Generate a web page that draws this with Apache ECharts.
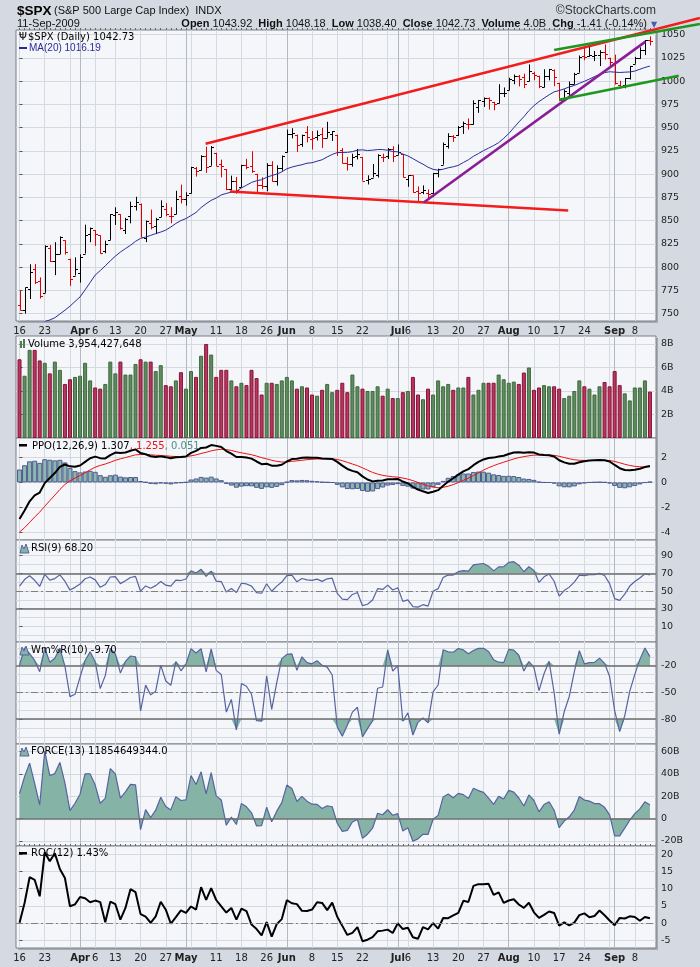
<!DOCTYPE html>
<html>
<head>
<meta charset="utf-8">
<title>$SPX</title>
<script src="https://cdn.jsdelivr.net/npm/echarts@6/dist/echarts.min.js"></script>
<style>
  html, body { margin: 0; padding: 0; background: #d5d9e1; }
  #main { width: 700px; height: 967px; }
</style>
</head>
<body>
<div id="main"></div>
<script>
// trading days shown, 16-Mar-2009 .. 11-Sep-2009
var dates = ['03-16','03-17','03-18','03-19','03-20','03-23','03-24','03-25','03-26','03-27','03-30','03-31',
  '04-01','04-02','04-03','04-06','04-07','04-08','04-09','04-13','04-14','04-15','04-16','04-17','04-20','04-21','04-22','04-23','04-24','04-27','04-28','04-29','04-30',
  '05-01','05-04','05-05','05-06','05-07','05-08','05-11','05-12','05-13','05-14','05-15','05-18','05-19','05-20','05-21','05-22','05-26','05-27','05-28','05-29',
  '06-01','06-02','06-03','06-04','06-05','06-08','06-09','06-10','06-11','06-12','06-15','06-16','06-17','06-18','06-19','06-22','06-23','06-24','06-25','06-26','06-29','06-30',
  '07-01','07-02','07-06','07-07','07-08','07-09','07-10','07-13','07-14','07-15','07-16','07-17','07-20','07-21','07-22','07-23','07-24','07-27','07-28','07-29','07-30','07-31',
  '08-03','08-04','08-05','08-06','08-07','08-10','08-11','08-12','08-13','08-14','08-17','08-18','08-19','08-20','08-21','08-24','08-25','08-26','08-27','08-28','08-31',
  '09-01','09-02','09-03','09-04','09-08','09-09','09-10','09-11'];

var open = [758.84,753.88,776.01,797.92,784.58,772.31,820.60,806.81,814.06,828.68,809.07,790.88,
  793.59,814.53,835.13,839.75,834.12,816.76,829.29,855.90,856.85,839.44,854.54,865.18,868.27,831.25,847.26,844.62,853.91,862.82,854.48,856.85,876.59,
  872.74,879.21,906.10,903.95,919.58,909.03,922.99,910.52,905.40,884.24,892.76,886.07,909.67,908.62,900.42,888.68,887.00,909.95,892.96,907.02,
  923.26,942.87,942.51,932.49,945.67,938.12,940.35,942.73,939.04,943.44,942.45,925.60,911.89,910.86,919.96,918.13,893.46,896.31,899.45,918.84,919.86,927.15,
  920.82,921.24,894.27,898.60,881.90,881.28,880.03,879.57,900.77,910.15,930.17,940.56,942.07,951.97,953.40,954.07,972.16,978.63,981.48,977.66,976.01,986.80,
  990.22,1001.41,1005.41,1004.06,999.83,1008.89,1005.77,994.00,1005.86,1012.23,998.18,980.62,986.88,996.41,1009.06,1026.59,1026.63,1027.35,1027.81,1031.62,1025.21,
  1019.52,996.07,996.12,1003.84,1018.67,1025.36,1032.99,1043.92];
var high = [774.53,778.12,803.04,803.24,788.91,823.37,823.65,826.78,832.98,828.68,809.07,810.48,
  813.62,845.61,842.50,839.75,834.12,828.42,856.91,864.31,856.85,852.93,870.35,875.63,868.27,850.09,861.78,852.87,871.80,868.83,864.48,882.06,888.70,
  880.48,907.85,907.70,920.28,929.58,930.17,922.99,915.57,905.40,898.36,896.97,910.00,916.39,924.60,900.42,896.65,911.76,913.84,909.45,920.02,
  947.77,949.38,942.51,942.47,951.69,946.33,946.92,949.77,956.23,946.30,942.45,928.00,918.44,921.93,927.09,918.13,898.69,910.85,921.42,922.00,927.99,930.01,
  931.92,921.24,898.72,898.60,886.80,887.86,883.57,901.05,905.84,933.95,943.96,941.89,951.62,956.53,959.83,979.42,979.79,982.49,982.35,977.76,996.68,993.18,
  1003.61,1007.12,1006.64,1008.00,1018.00,1010.12,1005.77,1012.78,1013.14,1012.60,998.18,991.20,999.61,1008.92,1027.59,1035.82,1037.75,1032.47,1033.33,1039.47,1025.21,
  1028.45,1000.34,1003.43,1016.48,1026.07,1036.34,1044.14,1048.18];
var low = [753.37,749.93,765.64,781.82,766.20,772.31,805.48,791.37,814.06,813.43,779.81,790.88,
  783.32,814.53,826.70,822.79,814.53,814.84,829.29,845.35,840.25,835.58,847.04,860.87,832.39,826.83,840.57,835.45,853.91,854.65,847.12,856.85,868.51,
  866.10,879.21,897.34,903.95,901.36,909.03,908.68,896.46,882.80,882.52,878.94,886.07,905.22,901.37,879.61,883.75,881.46,891.87,887.60,903.56,
  923.26,938.46,923.85,929.32,934.13,926.44,936.15,927.97,939.04,935.66,919.65,911.60,903.78,907.94,915.80,893.04,888.86,896.31,896.27,913.03,916.18,912.86,
  920.82,896.42,886.36,879.93,869.32,878.45,872.81,875.32,896.50,910.15,927.45,934.65,940.99,943.22,947.75,953.27,965.95,972.29,969.35,968.65,976.01,982.85,
  990.22,996.68,994.31,992.49,999.83,1000.99,992.40,993.36,1000.82,994.60,978.51,980.62,980.62,996.39,1009.06,1022.48,1026.21,1021.57,1016.20,1023.13,1014.62,
  996.28,991.97,992.25,1001.65,1018.67,1023.97,1028.04,1038.40];
var close = [753.89,778.12,794.35,784.04,768.54,822.92,806.12,813.88,832.86,815.94,787.53,797.87,
  811.08,834.38,842.50,835.48,815.55,825.16,856.56,858.73,841.50,852.06,865.30,869.60,832.39,850.08,843.55,851.92,866.23,857.51,855.16,873.64,872.81,
  877.52,907.24,903.80,919.53,907.39,929.23,909.24,908.35,883.92,893.07,882.88,909.71,908.13,903.47,888.33,887.00,910.33,893.06,906.83,919.14,
  942.87,944.74,931.76,942.46,940.09,939.14,942.43,939.15,944.89,946.21,923.72,911.97,910.71,918.37,921.23,893.04,895.10,900.94,920.26,918.90,927.23,919.32,
  923.33,896.42,898.72,881.03,879.56,882.68,879.13,901.05,905.84,932.68,940.74,940.38,951.13,954.58,954.07,976.29,979.26,982.18,979.62,975.15,986.75,987.48,
  1002.63,1005.65,1002.72,997.08,1010.48,1007.10,994.35,1005.81,1012.73,1004.09,979.73,989.67,996.46,1007.37,1026.13,1025.57,1028.00,1028.12,1030.98,1028.93,1020.62,
  998.04,994.75,1003.24,1016.40,1025.39,1033.37,1044.14,1042.73];
// volume in billions of shares
var volume = [6.7,5.3,7.5,7.5,6.6,6.4,5.5,6.5,5.8,4.6,5.0,5.2,5.3,6.4,4.9,4.3,4.2,4.6,6.5,5.5,
  6.5,5.4,5.4,6.3,6.7,6.5,6.5,5.7,6.2,4.5,4.4,4.9,5.6,4.2,5.7,5.2,7.0,8.0,7.1,5.2,
  5.8,5.8,4.9,4.4,4.7,4.5,5.8,5.1,3.7,4.7,4.7,4.6,4.9,5.2,4.9,4.2,4.4,4.3,3.7,3.6,
  4.1,4.6,3.9,4.1,4.7,3.9,5.4,4.4,4.2,4.0,4.0,4.4,3.6,4.2,3.4,3.4,3.9,4.0,5.2,3.7,
  3.3,4.2,3.7,4.9,4.4,4.6,4.1,4.3,4.3,5.2,3.7,4.1,4.7,4.7,4.7,5.4,5.0,4.7,4.8,4.6,
  5.57,6.0,4.1,4.3,4.5,4.4,4.4,4.2,3.4,3.6,4.0,4.9,4.4,4.2,3.7,4.4,4.77,4.4,5.7,4.5,
  3.8,3.2,4.3,4.3,4.9,3.95];

// history before the window, only used to warm up the indicators (1-Dec-2008 .. 13-Mar-2009)
var priorClose = [816.21,848.81,870.74,845.22,876.07,909.70,888.67,899.24,873.59,879.73,868.57,913.18,904.42,885.28,887.88,871.63,863.16,868.15,872.80,869.42,890.64,903.25,
  931.80,927.45,934.70,906.65,909.73,890.35,870.26,871.79,842.62,843.74,850.12,805.22,840.24,827.50,831.95,836.57,845.71,874.09,845.14,825.88,
  825.44,838.51,832.23,845.85,868.60,869.89,827.16,833.74,835.19,826.84,789.17,788.42,778.94,770.05,743.33,773.14,764.90,752.83,735.09,
  700.82,696.33,712.87,682.55,683.38,676.53,719.60,721.36,750.74,756.55];
var priorHigh = [711.67,724.12,708.27,699.96,695.27,719.60,731.92,752.63,758.29];
var priorLow = [692.30,698.96,677.93,666.79,672.88,679.28,713.85,714.76,742.46];
var forcePrior = 29e9; // FORCE(13) on 13-Mar

// axis ticks
var tickDates = ['03-16','03-23','04-01','04-06','04-13','04-20','04-27','05-01','05-11','05-18','05-26','06-01','06-08','06-15','06-22','07-01','07-06','07-13','07-20','07-27','08-03','08-10','08-17','08-24','09-01','09-08'];
var tickText = ['16','23','Apr','6','13','20','27','May','11','18','26','Jun','8','15','22','Jul','6','13','20','27','Aug','10','17','24','Sep','8'];
var weekDates = ['03-16','03-23','03-30','04-06','04-13','04-20','04-27','05-04','05-11','05-18','05-26','06-08','06-15','06-22','06-29','07-06','07-13','07-20','07-27','08-10','08-17','08-24','08-31','09-08'];
var monthDates = ['04-01','05-01','06-01','07-01','08-03','09-01'];
var priceTicks = [750,775,800,825,850,875,900,925,950,975,1000,1025,1050];
var volTicks = [2e9,4e9,6e9,8e9];
var ppoTicks = [-4,-2,0,2];
var rsiTicks = [10,30,50,70,90];
var rsiGrid = [0,10,20,30,40,50,60,70,80,90,100];
var wmrTicks = [-80,-50,-20];
var wmrGrid = [-100,-90,-80,-70,-60,-50,-40,-30,-20,-10,0];
var forceTicks = [-20e9,0,20e9,40e9,60e9];
var rocTicks = [-5,0,5,10,15,20];

// drawn trend lines: [start day index, start price, end day index, end price]
var trendLines = [
  [36.9, 932.7, 134.9, 1068.0],
  [41.7, 881.2, 108.8, 860.8],
  [80.2, 869.7, 124.1, 1042.5],
  [106.0, 1033.6, 134.9, 1061.5],
  [107.0, 979.9, 130.7, 1005.7]
];
var trendColors = ['#f21c1c', '#f21c1c', '#8a1c96', '#1f961f', '#1f961f'];

var N = dates.length;
var idxOf = function (d) { return dates.indexOf(d); };
var tickIdx = tickDates.map(idxOf);
var weekIdx = weekDates.map(idxOf);
var monthIdx = monthDates.map(idxOf);
var dayIdx = dates.map(function (d, i) { return i; });

// ---- indicators ----
var allClose = priorClose.concat(close);
var off = priorClose.length;
function ema(arr, n) {
  var k = 2 / (n + 1), out = [], e = arr[0];
  for (var i = 0; i < arr.length; i++) { e = i === 0 ? arr[0] : arr[i] * k + e * (1 - k); out.push(e); }
  return out;
}
var e12 = ema(allClose, 12), e26 = ema(allClose, 26);
var ppoAll = allClose.map(function (c, i) { return (e12[i] - e26[i]) / e26[i] * 100; });
var sigAll = ema(ppoAll, 9);

var ma20 = [], ppo = [], sig = [], hist = [], rsi = [], wmr = [], roc = [], force = [];
for (var i = 0; i < N; i++) {
  var j = off + i, s = 0;
  for (var k = j - 19; k <= j; k++) s += allClose[k];
  ma20.push([i, s / 20]);
  ppo.push([i, ppoAll[j]]);
  sig.push([i, sigAll[j]]);
  hist.push([i, ppoAll[j] - sigAll[j]]);
  roc.push([i, (allClose[j] / allClose[j - 12] - 1) * 100]);
}
// RSI(9), Wilder smoothing
(function () {
  var n = 9, g = 0, l = 0;
  for (var k = 1; k <= n; k++) { var d = allClose[k] - allClose[k - 1]; if (d > 0) g += d; else l -= d; }
  g /= n; l /= n;
  var vals = [];
  for (var k = n + 1; k < allClose.length; k++) {
    var d = allClose[k] - allClose[k - 1];
    g = (g * (n - 1) + Math.max(d, 0)) / n;
    l = (l * (n - 1) + Math.max(-d, 0)) / n;
    vals[k] = l === 0 ? 100 : 100 - 100 / (1 + g / l);
  }
  for (var i = 0; i < N; i++) rsi.push([i, vals[off + i]]);
})();
// Williams %R(10)
(function () {
  var hh = priorHigh.concat(high), ll = priorLow.concat(low), o = priorHigh.length;
  for (var i = 0; i < N; i++) {
    var mx = -Infinity, mn = Infinity;
    for (var k = o + i - 9; k <= o + i; k++) { mx = Math.max(mx, hh[k]); mn = Math.min(mn, ll[k]); }
    wmr.push([i, (mx - close[i]) / (mx - mn) * -100]);
  }
})();
// FORCE(13)
(function () {
  var f = forcePrior, k = 2 / 14;
  for (var i = 0; i < N; i++) {
    var raw = (allClose[off + i] - allClose[off + i - 1]) * volume[i] * 1e9;
    f = f + (raw - f) * k;
    force.push([i, f]);
  }
})();

var upDay = close.map(function (c, i) { return c >= allClose[off + i - 1]; });
var ohlc = dates.map(function (d, i) { return [i, open[i], high[i], low[i], close[i], upDay[i] ? 1 : 0]; });
var vol = volume.map(function (v, i) {
  return { value: [i, v * 1e9], itemStyle: { color: upDay[i] ? '#5f8b5f' : '#b2385f', borderColor: upDay[i] ? '#3c6a3c' : '#8c1036' } };
});

// ---- layout ----
var L = 16, R = 44;
var grids = [
  { top: 30, height: 291 },   // price
  { top: 336, height: 102 },  // volume
  { top: 438, height: 102 },  // ppo
  { top: 540, height: 102 },  // rsi
  { top: 642, height: 102 },  // wm%r
  { top: 744, height: 102 },  // force
  { top: 846, height: 102 }   // roc
].map(function (g) {
  return { left: L, right: R, top: g.top, height: g.height, show: true, backgroundColor: '#f4f6fa', borderColor: '#7a7e86', borderWidth: 1 };
});

var labelFont = 'DejaVu Sans';
function fmtX(v) {
  var n = tickIdx.indexOf(Math.round(v));
  if (n < 0) return '';
  var t = tickText[n];
  return /^[A-Z]/.test(t) ? '{m|' + t + '}' : '{d|' + t + '}';
}
function xAx(g, withLabels) {
  return {
    type: 'value', gridIndex: g, min: -0.7, max: 126.2,
    axisLine: { show: false },
    axisTick: { show: false, customValues: weekIdx },
    axisLabel: {
      show: withLabels, customValues: tickIdx, formatter: fmtX, margin: 5,
      rich: {
        m: { fontFamily: labelFont, fontSize: 10, fontWeight: 'bold', color: '#222' },
        d: { fontFamily: labelFont, fontSize: 10, color: '#222' }
      }
    },
    splitLine: { show: true, lineStyle: { color: '#d5d9e0', width: 1 } }
  };
}
// second x axis per panel: darker month lines
function xMonth(g) {
  return {
    type: 'value', gridIndex: g, min: -0.7, max: 126.2,
    axisLine: { show: false }, axisLabel: { show: false },
    axisTick: { show: false, customValues: monthIdx },
    splitLine: { show: true, lineStyle: { color: '#b4b8c0', width: 1 } }
  };
}
// day tick marks under a panel
function xDays(g) {
  return {
    type: 'value', gridIndex: g, min: -0.7, max: 126.2,
    axisLine: { show: false }, axisLabel: { show: false }, splitLine: { show: false },
    axisTick: { show: true, inside: false, length: 2, customValues: dayIdx, lineStyle: { color: '#666', width: 1 } }
  };
}
function yAx(g, min, max, labels, fmt, gridVals) {
  return {
    type: 'value', gridIndex: g, position: 'right', min: min, max: max,
    axisLine: { show: false },
    axisTick: { show: false, customValues: gridVals || labels },
    axisLabel: { customValues: labels, formatter: fmt, fontFamily: labelFont, fontSize: 9.5, color: '#222', margin: 5, showMinLabel: true, showMaxLabel: true },
    splitLine: { show: true, lineStyle: { color: '#d5d9e0', width: 1 } }
  };
}
// tick stubs on the right edge
function yStub(g, min, max, labels) {
  return {
    type: 'value', gridIndex: g, position: 'right', min: min, max: max,
    axisLine: { show: false }, axisLabel: { show: false }, splitLine: { show: false },
    axisTick: { show: true, length: 3, customValues: labels, lineStyle: { color: '#555' } }
  };
}
var billions = function (v) { return v === 0 ? '0' : (v / 1e9) + 'B'; };
var plain = function (v) { return String(v); };

var xAxes = [], yAxes = [];
for (var g = 0; g < 7; g++) xAxes.push(xAx(g, g === 0 || g === 6)); // 0..6
for (var g = 0; g < 7; g++) xAxes.push(xMonth(g));                  // 7..13
xAxes.push(xDays(0)); // 14
xAxes.push(xDays(6)); // 15

var yRanges = [
  [742, 1055, priceTicks, plain],
  [0, 8.68e9, volTicks, billions],
  [-4.6, 3.55, ppoTicks, plain],
  [-7.6, 107.7, rsiTicks, plain, rsiGrid],
  [-108, 6.7, wmrTicks, plain, wmrGrid],
  [-24.5e9, 66.6e9, forceTicks, billions],
  [-7.2, 22.4, rocTicks, plain]
];
yRanges.forEach(function (r, g) { yAxes.push(yAx(g, r[0], r[1], r[2], r[3], r[4])); });
yRanges.forEach(function (r, g) { yAxes.push(yStub(g, r[0], r[1], r[2])); });

var blueLine = '#5763a0', fillTeal = '#85b3a6';
var dashDot = [7, 3, 2, 3];
function hLines(vals) {
  return {
    silent: true, symbol: 'none', label: { show: false }, animation: false,
    data: vals.map(function (v) {
      return { yAxis: v[0], lineStyle: { color: v[1] === 'dd' ? '#808080' : '#6c6c6c', width: v[1] === 'dd' ? 1 : 1.5, type: v[1] === 'dd' ? dashDot : 'solid' } };
    })
  };
}
function hidden(g) {
  return { type: 'line', xAxisIndex: 7 + g, yAxisIndex: 7 + g, data: [], symbol: 'none', silent: true, lineStyle: { opacity: 0 } };
}

var series = [
  hidden(0), hidden(1), hidden(2), hidden(3), hidden(4), hidden(5), hidden(6),
  {
    type: 'custom', xAxisIndex: 0, yAxisIndex: 0, data: ohlc, encode: { x: 0, y: [1, 2, 3, 4] }, z: 3,
    renderItem: function (params, api) {
      var i = api.value(0);
      var ph = api.coord([i, api.value(2)]), pl = api.coord([i, api.value(3)]);
      var po = api.coord([i, api.value(1)]), pc = api.coord([i, api.value(4)]);
      var x = Math.round(ph[0]) + 0.5;
      var col = api.value(5) ? '#000000' : '#e00000';
      var st = { stroke: col, lineWidth: 1 };
      return { type: 'group', children: [
        { type: 'line', shape: { x1: x, y1: ph[1], x2: x, y2: pl[1] }, style: st },
        { type: 'line', shape: { x1: x - 2.5, y1: Math.round(po[1]) + 0.5, x2: x, y2: Math.round(po[1]) + 0.5 }, style: st },
        { type: 'line', shape: { x1: x, y1: Math.round(pc[1]) + 0.5, x2: x + 2.5, y2: Math.round(pc[1]) + 0.5 }, style: st }
      ] };
    }
  },
  { type: 'line', xAxisIndex: 0, yAxisIndex: 0, data: ma20, symbol: 'none', z: 4, lineStyle: { color: '#2b2b98', width: 1 } },
  {
    type: 'custom', xAxisIndex: 0, yAxisIndex: 0, data: trendLines, encode: { x: [0, 2], y: [1, 3] }, clip: false, z: 6, silent: true,
    renderItem: function (params, api) {
      var a = api.coord([api.value(0), api.value(1)]), b = api.coord([api.value(2), api.value(3)]);
      return { type: 'line', shape: { x1: a[0], y1: a[1], x2: b[0], y2: b[1] }, style: { stroke: trendColors[params.dataIndex], lineWidth: 2.5 } };
    }
  },

  { type: 'bar', xAxisIndex: 1, yAxisIndex: 1, data: vol, barWidth: 4, itemStyle: { borderWidth: 1 } },

  { type: 'bar', xAxisIndex: 2, yAxisIndex: 2, data: hist, barWidth: 5.04, itemStyle: { color: '#8db7ad', borderColor: '#4e5a94', borderWidth: 1 } },
  { type: 'line', xAxisIndex: 2, yAxisIndex: 2, data: sig, symbol: 'none', z: 4, lineStyle: { color: '#f01010', width: 1 } },
  { type: 'line', xAxisIndex: 2, yAxisIndex: 2, data: ppo, symbol: 'none', z: 5, lineStyle: { color: '#000', width: 2 } },

  { type: 'line', xAxisIndex: 3, yAxisIndex: 3, data: rsi.map(function (p) { return [p[0], Math.max(p[1], 70)]; }), symbol: 'none', silent: true, lineStyle: { opacity: 0 }, areaStyle: { origin: 70, color: fillTeal, opacity: 1 } },
  { type: 'line', xAxisIndex: 3, yAxisIndex: 3, data: rsi.map(function (p) { return [p[0], Math.min(p[1], 30)]; }), symbol: 'none', silent: true, lineStyle: { opacity: 0 }, areaStyle: { origin: 30, color: fillTeal, opacity: 1 } },
  { type: 'line', xAxisIndex: 3, yAxisIndex: 3, data: rsi, symbol: 'none', z: 4, lineStyle: { color: blueLine, width: 1.2 },
    markLine: hLines([[70, 's'], [30, 's'], [50, 'dd']]) },

  { type: 'line', xAxisIndex: 4, yAxisIndex: 4, data: wmr.map(function (p) { return [p[0], Math.max(p[1], -20)]; }), symbol: 'none', silent: true, lineStyle: { opacity: 0 }, areaStyle: { origin: -20, color: fillTeal, opacity: 1 } },
  { type: 'line', xAxisIndex: 4, yAxisIndex: 4, data: wmr.map(function (p) { return [p[0], Math.min(p[1], -80)]; }), symbol: 'none', silent: true, lineStyle: { opacity: 0 }, areaStyle: { origin: -80, color: fillTeal, opacity: 1 } },
  { type: 'line', xAxisIndex: 4, yAxisIndex: 4, data: wmr, symbol: 'none', z: 4, lineStyle: { color: blueLine, width: 1.2 },
    markLine: hLines([[-20, 's'], [-80, 's'], [-50, 'dd']]) },

  { type: 'line', xAxisIndex: 5, yAxisIndex: 5, data: force, symbol: 'none', z: 4, lineStyle: { color: blueLine, width: 1.2 }, areaStyle: { origin: 0, color: fillTeal, opacity: 1 },
    markLine: hLines([[0, 's']]) },

  { type: 'line', xAxisIndex: 6, yAxisIndex: 6, data: roc, symbol: 'none', z: 4, lineStyle: { color: '#000', width: 2 },
    markLine: hLines([[0, 'dd']]) },

  { type: 'line', xAxisIndex: 14, yAxisIndex: 0, data: [], symbol: 'none' },
  { type: 'line', xAxisIndex: 15, yAxisIndex: 6, data: [], symbol: 'none' }
];

// ---- texts ----
var hdrFont = '"Liberation Sans", Arial, sans-serif';
function txt(x, y, text, font, fill, extra) {
  var st = { x: x, y: y, text: text, font: font, fill: fill || '#000', textVerticalAlign: 'middle' };
  if (extra) for (var k in extra) st[k] = extra[k];
  return { type: 'text', z: 100, silent: true, style: st };
}
var pf = '10px "DejaVu Sans"';
var graphics = [
  // box shadows
  { type: 'rect', z: -10, silent: true, shape: { x: L + 2, y: 32, width: 700 - L - R, height: 291 }, style: { fill: '#a6aab2' } },
  { type: 'rect', z: -10, silent: true, shape: { x: L + 2, y: 338, width: 700 - L - R, height: 612 }, style: { fill: '#a6aab2' } },

  txt(17, 11, '$SPX', 'bold 13.5px ' + hdrFont),
  txt(54, 11, '(S&P 500 Large Cap Index)  INDX', '11px ' + hdrFont, '#111'),
  txt(656, 11, '\u00a9StockCharts.com', '12px ' + hdrFont, '#333', { textAlign: 'right' }),
  txt(17, 24, '11-Sep-2009', '11px ' + hdrFont, '#111'),
  txt(647, 24, '{b|Open} 1043.92  {b|High} 1048.18  {b|Low} 1038.40  {b|Close} 1042.73  {b|Volume} 4.0B  {b|Chg} -1.41 (-0.14%)', '11px ' + hdrFont, '#111',
    { textAlign: 'right', rich: { b: { fontWeight: 'bold', fontSize: 11, fontFamily: 'Liberation Sans' } } }),
  txt(654, 25, '\u25bc', '8px "DejaVu Sans"', '#4a5aa8', { textAlign: 'center' }),

  txt(19, 37, '\u03a8', '10px "DejaVu Sans"', '#000'),
  txt(28, 37, '$SPX (Daily) 1042.73', pf, '#000'),
  { type: 'rect', z: 100, silent: true, shape: { x: 19, y: 47, width: 8, height: 2 }, style: { fill: '#2b2b98' } },
  txt(29, 48, 'MA(20) 1016.19', '10px ' + hdrFont, '#2b2b98'),

  { type: 'rect', z: 100, silent: true, shape: { x: 20, y: 341, width: 2, height: 7 }, style: { fill: '#4c7d4c' } },
  { type: 'rect', z: 100, silent: true, shape: { x: 23, y: 339, width: 2, height: 9 }, style: { fill: '#4c7d4c' } },
  txt(28, 344, 'Volume 3,954,427,648', pf, '#000'),

  { type: 'rect', z: 100, silent: true, shape: { x: 19, y: 444, width: 8, height: 2.5 }, style: { fill: '#000' } },
  txt(32, 446, 'PPO(12,26,9) 1.307{r|, 1.255}{t|, 0.051}', pf, '#000',
    { rich: { r: { fill: '#f01010', fontFamily: 'DejaVu Sans', fontSize: 10 }, t: { fill: '#4e8f86', fontFamily: 'DejaVu Sans', fontSize: 10 } } }),

  { type: 'polygon', z: 100, silent: true, shape: { points: [[20, 553], [22, 545], [24, 549], [26, 544], [29, 553]] }, style: { fill: fillTeal, stroke: blueLine, lineWidth: 1 } },
  txt(31, 548.5, 'RSI(9) 68.20', pf, '#000'),
  { type: 'polygon', z: 100, silent: true, shape: { points: [[20, 655], [22, 647], [24, 651], [26, 646], [29, 655]] }, style: { fill: fillTeal, stroke: blueLine, lineWidth: 1 } },
  txt(31, 650.5, 'Wm%R(10) -9.70', pf, '#000'),
  { type: 'polygon', z: 100, silent: true, shape: { points: [[20, 756], [22, 748], [24, 752], [26, 747], [29, 756]] }, style: { fill: fillTeal, stroke: blueLine, lineWidth: 1 } },
  txt(31, 751.5, 'FORCE(13) 11854649344.0', pf, '#000'),
  { type: 'rect', z: 100, silent: true, shape: { x: 19, y: 852, width: 8, height: 2.5 }, style: { fill: '#000' } },
  txt(31, 853.5, 'ROC(12) 1.43%', pf, '#000')
];

var chart = echarts.init(document.getElementById('main'), null, { renderer: 'canvas' });
chart.setOption({
  animation: false,
  backgroundColor: '#d5d9e1',
  grid: grids,
  xAxis: xAxes,
  yAxis: yAxes,
  series: series,
  graphic: graphics
});
</script>
</body>
</html>
